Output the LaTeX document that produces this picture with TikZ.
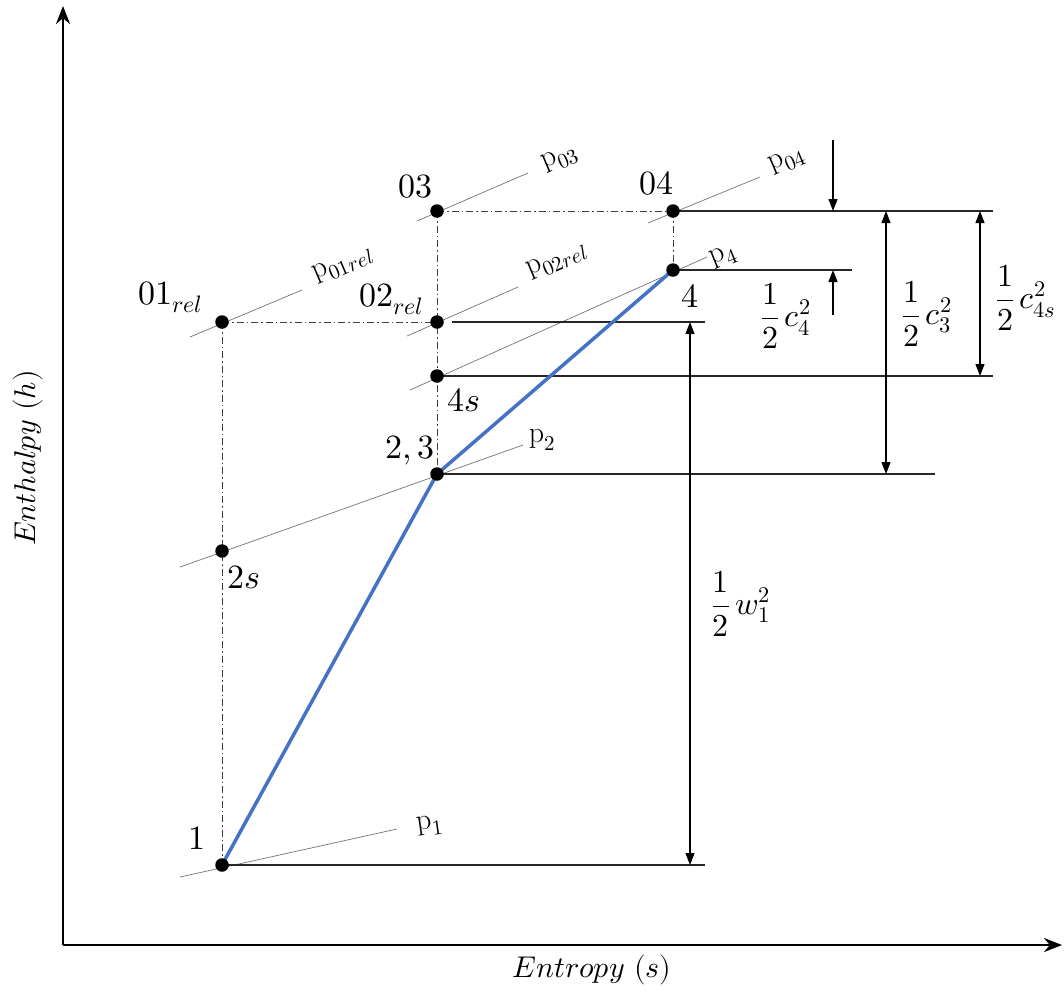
\documentclass[tikz,border=0pt]{standalone}
\usepackage{unicode-math}
\usetikzlibrary{arrows.meta}
\definecolor{procblue}{HTML}{4472C4}
\begin{document}
\begin{tikzpicture}[x=1pt,y=-1pt,
  dot/.style={circle,fill=black,inner sep=0pt,minimum size=13.5pt},
  iso/.style={draw=black!55,line width=0.7pt},
  dd/.style={draw=black!75,line width=1pt,dash pattern=on 7pt off 3pt on 1.5pt off 3pt},
  refl/.style={draw=black!85,line width=1.2pt},
  dim/.style={draw=black,line width=1.1pt},
  dimtip/.style={arrows={-Triangle[length=12pt,width=9pt]}},
  dimboth/.style={arrows={Triangle[length=12pt,width=9pt]-Triangle[length=12pt,width=9pt]}},
  axis/.style={draw=black,line width=2.8pt,arrows={-Stealth[length=18pt,width=14pt]}},
  proc/.style={draw=procblue,line width=3.5pt},
  axlbl/.style={font=\fontsize{30}{36}\selectfont,inner sep=0pt},
  lbl/.style={font=\fontsize{34}{40}\selectfont,inner sep=0pt},
  frac/.style={font=\fontsize{32}{38}\selectfont,inner sep=0pt},
  plbl/.style={font=\fontsize{30}{36}\selectfont,inner sep=0pt},
]
\useasboundingbox (0,0) rectangle (1064,994);
% axes
\coordinate (O) at (63,945);
\coordinate (Ytop) at (63,6);
\coordinate (Xend) at (1062,945);
\draw[axis] (O) -- (Ytop);
\draw[axis] (O) -- (Xend);
\node[axlbl] (xl) at (592,970) {$Entropy\ (s)$};
\node[axlbl,rotate=90] (yl) at (28,458) {$Enthalpy\ (h)$};

% state points
\coordinate (P1) at (222,865);
\coordinate (P2s) at (222,551);
\coordinate (P01) at (222,322);
\coordinate (P23) at (437,474);
\coordinate (P4s) at (437,376);
\coordinate (P02) at (437,322);
\coordinate (P03) at (437,211);
\coordinate (P04) at (673,211);
\coordinate (P4) at (673,270);

% isobars
\coordinate (i1a) at (180,877); \coordinate (i1b) at (397,829);
\coordinate (i2a) at (180,567); \coordinate (i2b) at (523,445);
\coordinate (i01a) at (190,337); \coordinate (i01b) at (302,290);
\coordinate (i02a) at (407,336); \coordinate (i02b) at (518,287);
\coordinate (i03a) at (417,221); \coordinate (i03b) at (528,173);
\coordinate (i04a) at (648,223); \coordinate (i04b) at (760,177);
\coordinate (i4a) at (410,390); \coordinate (i4b) at (707,257);
\draw[iso] (i1a) -- (i1b);
\draw[iso] (i2a) -- (i2b);
\draw[iso] (i01a) -- (i01b);
\draw[iso] (i02a) -- (i02b);
\draw[iso] (i03a) -- (i03b);
\draw[iso] (i04a) -- (i04b);
\draw[iso] (i4a) -- (i4b);

% dash-dot construction lines
\draw[dd] (P01) -- (P1);
\draw[dd] (P01) -- (P02);
\draw[dd] (P03) -- (P23);
\draw[dd] (P03) -- (P04);
\draw[dd] (P04) -- (P4);

% reference horizontals
\coordinate (r1) at (705,865);
\coordinate (r23) at (935,474);
\coordinate (r4s) at (993,376);
\coordinate (r02a) at (452,322); \coordinate (r02b) at (705,322);
\coordinate (r4) at (852,270);
\coordinate (r04) at (993,211);
\draw[refl] (P1) -- (r1);
\draw[refl] (P23) -- (r23);
\draw[refl] (P4s) -- (r4s);
\draw[refl] (r02a) -- (r02b);
\draw[refl] (P4) -- (r4);
\draw[refl] (P04) -- (r04);

% process line
\draw[proc,line join=round] (P1) -- (P23) -- (P4);

% dots
\foreach \p in {P1,P2s,P01,P23,P4s,P02,P03,P04,P4}
  \node[dot] (d\p) at (\p) {};

% dimension arrows
\coordinate (w1t) at (690,322); \coordinate (w1b) at (690,865);
\draw[dim,dimboth] (w1t) -- (w1b);
\coordinate (c4a) at (833,140); \coordinate (c4b) at (833,211);
\draw[dim,dimtip] (c4a) -- (c4b);
\coordinate (c4c) at (833,315); \coordinate (c4d) at (833,270);
\draw[dim,dimtip] (c4c) -- (c4d);
\coordinate (c3t) at (886,211); \coordinate (c3b) at (886,474);
\draw[dim,dimboth] (c3t) -- (c3b);
\coordinate (c4st) at (980,211); \coordinate (c4sb) at (980,376);
\draw[dim,dimboth] (c4st) -- (c4sb);

% point labels
\node[lbl] (l1) at (197,838) {$1$};
\node[lbl] (l2s) at (244,577) {$2s$};
\node[lbl] (l01) at (170,297) {$01_{rel}$};
\node[lbl] (l02) at (391,299) {$02_{rel}$};
\node[lbl] (l03) at (415,187) {$03$};
\node[lbl] (l04) at (656,183) {$04$};
\node[lbl] (l23) at (410,450) {$2,3$};
\node[lbl] (l4s) at (464,400) {$4s$};
\node[lbl] (l4) at (690,296) {$4$};

% pressure labels
\node[plbl,rotate=8] (pl1) at (430,826) {$\mathrm{p}_1$};
\node[plbl] (pl2) at (542,440) {$\mathrm{p}_2$};
\node[plbl,rotate=22] (pl4) at (724,257) {$\mathrm{p}_4$};
\node[plbl,rotate=23] (pl01) at (343,265) {$\mathrm{p}_{01rel}$};
\node[plbl,rotate=23] (pl02) at (557,261) {$\mathrm{p}_{02rel}$};
\node[plbl,rotate=23] (pl03) at (560,159) {$\mathrm{p}_{03}$};
\node[plbl,rotate=23] (pl04) at (787,161) {$\mathrm{p}_{04}$};

% energy labels
\node[frac] (lw1) at (741,604) {$\dfrac{1}{2}\,w_1^2$};
\node[frac] (lc4) at (786,316) {$\dfrac{1}{2}\,c_4^2$};
\node[frac] (lc3) at (927,314) {$\dfrac{1}{2}\,c_3^2$};
\node[frac] (lc4s) at (1026,298) {$\dfrac{1}{2}\,c_{4s}^2$};
\end{tikzpicture}
\end{document}
